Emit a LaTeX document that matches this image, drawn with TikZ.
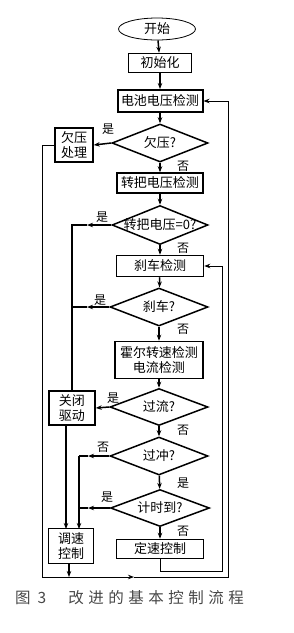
\documentclass[tikz,border=0pt]{standalone}
\usepackage{fontspec}
\setmainfont{Noto Sans CJK SC}
\usetikzlibrary{shapes.geometric,arrows.meta}
\begin{document}
\begin{tikzpicture}[x=1pt,y=-1pt,
  box/.style={draw,line width=1.5pt,inner sep=0pt,font=\fontsize{13}{15}\selectfont,align=center},
  dtext/.style={font=\fontsize{13}{15}\selectfont,inner sep=0pt},
  dec/.style={draw,diamond,line width=1.5pt,inner sep=0pt,label={[dtext]center:#1}},
  ar/.style={-{Stealth[length=6pt,width=4.5pt]},line width=1.5pt},
  ln/.style={line width=1.5pt},
  tar/.style={-{Stealth[length=6pt,width=4.5pt]},line width=0.9pt},
  tln/.style={line width=0.9pt},
  lab/.style={font=\fontsize{12}{13}\selectfont,inner sep=0pt}]
\useasboundingbox (0,0) rectangle (293,633);

\node[draw,ellipse,line width=0.8pt,minimum width=77,minimum height=22,inner sep=0pt,font=\fontsize{13}{15}\selectfont] (start) at (157,29) {开始};
\node[box,minimum width=63,minimum height=19] (init) at (160,63) {初始化};
\node[box,line width=2pt,minimum width=85,minimum height=22] (batt) at (160,101) {电池电压检测};
\node[dec={欠压?},minimum width=96,minimum height=38] (d1) at (160,143) {};
\node[box,minimum width=38,minimum height=34] (uv) at (74,145) {欠压\\处理};
\node[box,minimum width=86,minimum height=20] (handle) at (160,183) {转把电压检测};
\node[dec={转把电压=0?},minimum width=96,minimum height=39] (d2) at (160,225) {};
\node[box,minimum width=87,minimum height=21] (brake) at (160,266) {刹车检测};
\node[dec={刹车?},minimum width=98,minimum height=38] (d3) at (159,307) {};
\node[box,minimum width=88,minimum height=37] (hall) at (159,360) {霍尔转速检测\\电流检测};
\node[dec={过流?},minimum width=98,minimum height=37] (d4) at (159,407) {};
\node[box,minimum width=46,minimum height=34] (close) at (72,408) {关闭\\驱动};
\node[dec={过冲?},minimum width=98,minimum height=38] (d5) at (159,456) {};
\node[dec={计时到?},minimum width=99,minimum height=37] (d6) at (160,508) {};
\node[box,minimum width=45,minimum height=35] (speed) at (71,546) {调速\\控制};
\node[box,minimum width=87,minimum height=19] (const) at (160,549) {定速控制};

% labels
\node[lab] (l1) at (108,129) {是};
\node[lab] (l2) at (183,166) {否};
\node[lab] (l3) at (102,217) {是};
\node[lab] (l4) at (183,248) {否};
\node[lab] (l5) at (100,300) {是};
\node[lab] (l6) at (183,329) {否};
\node[lab] (l7) at (113,398) {是};
\node[lab] (l8) at (183,430) {否};
\node[lab] (l9) at (103,447) {否};
\node[lab] (l10) at (183,483) {是};
\node[lab] (l11) at (107,497) {是};
\node[lab] (l12) at (183,531) {否};

% coordinates
\coordinate (c2a) at (87,225);
\coordinate (c2b) at (72,225);
\coordinate (c3a) at (87,307);
\coordinate (c3b) at (72,307);
\coordinate (c5a) at (88,456);
\coordinate (c5b) at (79,456);
\coordinate (c6a) at (88,508);
\coordinate (c6b) at (79,508);
\coordinate (s1) at (66,529);
\coordinate (s2) at (79,529);
\coordinate (k1) at (160,571);
\coordinate (k2) at (222,571);
\coordinate (b0) at (69,577);
\coordinate (bl) at (42,577);
\coordinate (bm) at (134,577);
\coordinate (br) at (228,577);
\coordinate (ul) at (42,145);

% main flow
\draw[ar] (start) -- (init);
\draw[ar] (init) -- (batt);
\draw[ar] (batt) -- (d1);
\draw[ar] (d1.west) -- (uv.east);
\draw[ar] (d1) -- (handle);
\draw[ar] (handle) -- (d2);
\draw[ar] (d2) -- (brake);
\draw[ar] (brake) -- (d3);
\draw[ar] (d3) -- (hall);
\draw[ar] (hall) -- (d4);
\draw[ar] (d4.west) -- (close.east);
\draw[ar] (d4) -- (d5);
\draw[ar] (d5) -- (d6);
\draw[ar] (d6) -- (const);

% left branches
\draw[ar] (d2.west) -- (c2a);
\draw[ln] (c2a) -- (c2b) -- (c2b |- close.north);
\draw[ar] (d3.west) -- (c3a);
\draw[ln] (c3a) -- (c3b);
\draw[ar] (close.south -| s1) -- (s1);
\draw[ar] (d5.west) -- (c5a);
\draw[ln] (c5a) -- (c5b);
\draw[ar] (c5b) -- (s2);
\draw[ar] (d6.west) -- (c6a);
\draw[ln] (c6a) -- (c6b);

% loops
\draw[tar] (const.south) -- (k1) -- (k2) |- (brake.east);
\draw[ar] (speed.south -| b0) -- (b0);
\draw[tln] (uv.west) -- (ul) -- (bl);
\draw[tar] (bl) -- (bm);
\draw[tar] (bm) -- (br) |- (batt.east);

\node[font=\fontsize{15.5}{17}\selectfont,text=black!72,anchor=west,inner sep=0pt] (cap) at (15,598)
 {图\hspace{7pt}3\hspace{22pt}改\hspace{4.5pt}进\hspace{4.5pt}的\hspace{4.5pt}基\hspace{4.5pt}本\hspace{4.5pt}控\hspace{4.5pt}制\hspace{4.5pt}流\hspace{4.5pt}程};
\end{tikzpicture}
\end{document}
